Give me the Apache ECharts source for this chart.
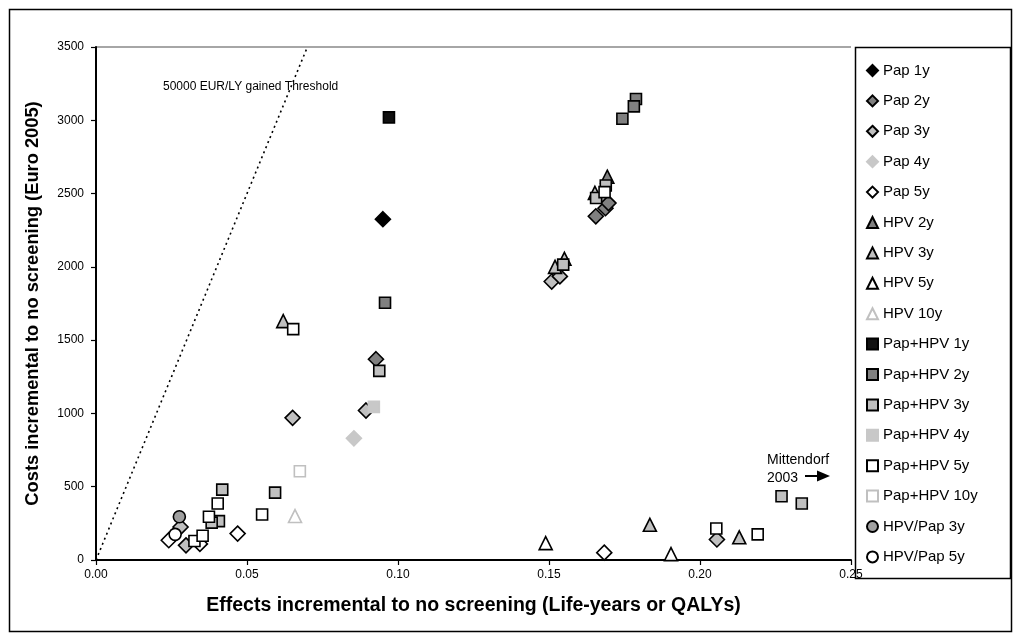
<!DOCTYPE html>
<html><head><meta charset="utf-8">
<script src="https://cdn.jsdelivr.net/npm/echarts@6/dist/echarts.min.js"></script>
<style>html,body{margin:0;padding:0;background:#fff}#c{width:1017px;height:640px}</style>
</head><body><div id="c"></div>
<script>
const xTicks = [0, 0.05, 0.10, 0.15, 0.20, 0.25];
const yTicks = [0, 500, 1000, 1500, 2000, 2500, 3000, 3500];
const pap1y = [[0.095, 2325]];
const pap2y = [[0.0927, 1370], [0.1655, 2345], [0.1687, 2400], [0.1697, 2435]];
const pap3y = [[0.0651, 970], [0.0894, 1020], [0.1509, 1900], [0.1536, 1935], [0.028, 225], [0.0298, 100], [0.2056, 140]];
const pap4y = [[0.0854, 830]];
const pap5y = [[0.0241, 135], [0.0344, 110], [0.0469, 180], [0.1683, 50]];
const hpv2y = [[0.1693, 2615]];
const hpv3y = [[0.062, 1630], [0.1652, 2505], [0.152, 2000], [0.1551, 2055], [0.1834, 240], [0.213, 155]];
const hpv5y = [[0.1489, 115], [0.1904, 40]];
const hpv10y = [[0.0659, 300]];
const papHpv1y = [[0.097, 3020]];
const papHpv2y = [[0.0957, 1755], [0.1788, 3145], [0.1781, 3095], [0.1743, 3010]];
const papHpv3y = [[0.0938, 1290], [0.1688, 2555], [0.1656, 2470], [0.1547, 2015], [0.0593, 460], [0.0418, 480], [0.0407, 265], [0.0383, 255], [0.227, 435], [0.2337, 385]];
const papHpv4y = [[0.092, 1045]];
const papHpv5y = [[0.0653, 1575], [0.1684, 2510], [0.055, 310], [0.0403, 385], [0.0374, 295], [0.0326, 130], [0.0353, 165], [0.2054, 215], [0.2191, 175]];
const papHpv10y = [[0.0675, 605]];
const hpvPap3y = [[0.0276, 295]];
const hpvPap5y = [[0.0262, 175]];
const thresholdLine = [[0, 0], [0.07, 3500]];

const FONT = '"Liberation Sans", Arial, sans-serif';
function sc(name, data, symbol, size, fill, border, bw) {
  return {
    name, type: 'scatter', data, symbol, symbolSize: size,
    itemStyle: { color: fill, borderColor: border, borderWidth: bw === undefined ? 1.6 : bw, opacity: 1 },
    emphasis: { disabled: true }, z: 3
  };
}
const series = [
  sc('Pap 1y', pap1y, 'diamond', 15, '#000', '#000'),
  sc('Pap 2y', pap2y, 'diamond', 15, '#808080', '#000'),
  sc('Pap 3y', pap3y, 'diamond', 15, '#c0c0c0', '#000'),
  sc('Pap 4y', pap4y, 'diamond', 15, '#c8c8c8', '#c8c8c8'),
  sc('Pap 5y', pap5y, 'diamond', 15, '#fff', '#000'),
  sc('HPV 2y', hpv2y, 'triangle', 13, '#808080', '#000'),
  sc('HPV 3y', hpv3y, 'triangle', 13, '#c0c0c0', '#000'),
  sc('HPV 5y', hpv5y, 'triangle', 13, '#fff', '#000'),
  sc('HPV 10y', hpv10y, 'triangle', 13, '#fff', '#c0c0c0'),
  sc('Pap+HPV 1y', papHpv1y, 'rect', 11, '#111', '#000'),
  sc('Pap+HPV 2y', papHpv2y, 'rect', 11, '#808080', '#000'),
  sc('Pap+HPV 3y', papHpv3y, 'rect', 11, '#c0c0c0', '#000'),
  sc('Pap+HPV 4y', papHpv4y, 'rect', 11, '#c8c8c8', '#c8c8c8'),
  sc('Pap+HPV 5y', papHpv5y, 'rect', 11, '#fff', '#000'),
  sc('Pap+HPV 10y', papHpv10y, 'rect', 11, '#fff', '#c0c0c0'),
  sc('HPV/Pap 3y', hpvPap3y, 'circle', 12, '#a0a0a0', '#000'),
  sc('HPV/Pap 5y', hpvPap5y, 'circle', 12, '#fff', '#000'),
  {
    name: 'threshold', type: 'line', data: thresholdLine, symbol: 'none',
    lineStyle: { color: '#000', width: 1.6, type: [2, 3.5] }, z: 2, silent: true
  }
];

const chart = echarts.init(document.getElementById('c'), null, { renderer: 'canvas' });
chart.setOption({
  animation: false,
  backgroundColor: '#fff',
  textStyle: { fontFamily: FONT },
  grid: { left: 96, right: 166, top: 47, bottom: 80, show: true, borderColor: '#888', borderWidth: 0 },
  xAxis: {
    type: 'value', min: xTicks[0], max: xTicks[xTicks.length - 1], interval: 0.05,
    name: 'Effects incremental to no screening (Life-years or QALYs)',
    nameLocation: 'middle', nameGap: 36,
    nameTextStyle: { fontSize: 19.5, fontWeight: 'bold', color: '#000', fontFamily: FONT },
    axisLine: { onZero: false, lineStyle: { color: '#000', width: 2 } },
    axisTick: { show: true, inside: false, length: 5, lineStyle: { color: '#000', width: 1.2 } },
    axisLabel: { fontSize: 12, color: '#000', margin: 9, formatter: v => v.toFixed(2), fontFamily: FONT },
    splitLine: { show: false }
  },
  yAxis: {
    type: 'value', min: yTicks[0], max: yTicks[yTicks.length - 1], interval: 500,
    name: 'Costs incremental to no screening (Euro 2005)',
    nameLocation: 'middle', nameGap: 54, nameRotate: 90,
    nameTextStyle: { fontSize: 18.3, fontWeight: 'bold', color: '#000', fontFamily: FONT },
    axisLine: { onZero: false, lineStyle: { color: '#000', width: 2 } },
    axisTick: { show: true, inside: false, length: 5, lineStyle: { color: '#000', width: 1.2 } },
    axisLabel: { fontSize: 12, color: '#000', margin: 12, formatter: v => String(v), fontFamily: FONT },
    splitLine: { show: false }
  },
  legend: {
    data: series.filter(s => s.name !== 'threshold').map(s => s.name),
    orient: 'vertical', left: 866, top: 62,
    itemWidth: 11, itemHeight: 11, itemGap: 13.4,
    textStyle: { fontSize: 15, color: '#000', lineHeight: 17, fontFamily: FONT },
    selectedMode: false, padding: 0
  },
  graphic: [
    { type: 'rect', shape: { x: 9.5, y: 9.5, width: 1002, height: 622 }, style: { fill: 'none', stroke: '#000', lineWidth: 1.5 }, silent: true, z: -1 },
    { type: 'line', shape: { x1: 96, y1: 47, x2: 851, y2: 47 }, style: { stroke: '#888', lineWidth: 1.5 }, silent: true },
    { type: 'rect', shape: { x: 855.5, y: 47.5, width: 155, height: 531 }, style: { fill: 'none', stroke: '#000', lineWidth: 1.5 }, silent: true },
    { type: 'text', x: 163, y: 81, style: { text: '50000 EUR/LY gained Threshold', fill: '#000', font: '12px ' + FONT } },
    { type: 'text', x: 767, y: 451, style: { text: 'Mittendorf\n2003', font: '14px ' + FONT, fill: '#000', lineHeight: 18 } },
    { type: 'line', shape: { x1: 805, y1: 476, x2: 820, y2: 476 }, style: { stroke: '#000', lineWidth: 2 } },
    { type: 'polygon', shape: { points: [[817, 470.5], [830, 476], [817, 481.5]] }, style: { fill: '#000' } }
  ],
  series
});
</script></body></html>
